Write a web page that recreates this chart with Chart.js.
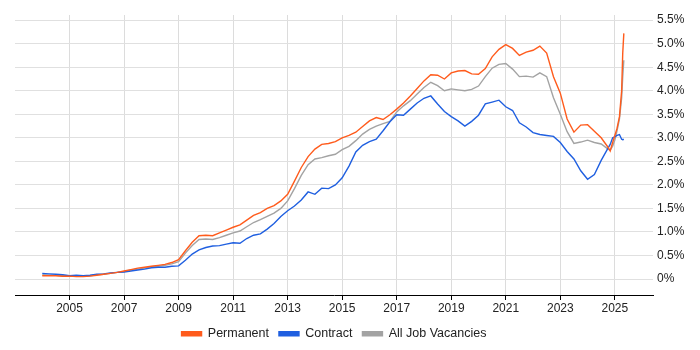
<!DOCTYPE html>
<html>
<head>
<meta charset="utf-8">
<script src="https://cdn.jsdelivr.net/npm/chart.js@4.4.1/dist/chart.umd.min.js"></script>
<style>
  html, body { margin: 0; padding: 0; background: #fff; }
  #wrap { width: 700px; height: 350px; }
</style>
</head>
<body>
<div id="wrap"><canvas id="chartTrend"></canvas></div>
<script>
// dates as decimal years
const dates = [
  2004.0, 2004.25, 2004.5, 2004.75, 2005.0, 2005.25, 2005.5, 2005.75,
  2006.0, 2006.25, 2006.5, 2006.75, 2007.0, 2007.25, 2007.5, 2007.75,
  2008.0, 2008.25, 2008.5, 2008.75, 2009.0, 2009.25, 2009.5, 2009.75,
  2010.0, 2010.25, 2010.5, 2010.75, 2011.0, 2011.25, 2011.5, 2011.75,
  2012.0, 2012.25, 2012.5, 2012.75, 2013.0, 2013.25, 2013.5, 2013.75,
  2014.0, 2014.25, 2014.5, 2014.75, 2015.0, 2015.25, 2015.5, 2015.75,
  2016.0, 2016.25, 2016.5, 2016.75, 2017.0, 2017.25, 2017.5, 2017.75,
  2018.0, 2018.25, 2018.5, 2018.75, 2019.0, 2019.25, 2019.5, 2019.75,
  2020.0, 2020.25, 2020.5, 2020.75, 2021.0, 2021.25, 2021.5, 2021.75,
  2022.0, 2022.25, 2022.5, 2022.75, 2023.0, 2023.25, 2023.5, 2023.75,
  2024.0, 2024.25, 2024.5, 2024.75, 2024.83, 2024.92, 2025.0, 2025.08,
  2025.17, 2025.25, 2025.29, 2025.33
];

const permanent = [
  0.07, 0.07, 0.07, 0.06, 0.06, 0.05, 0.05, 0.06,
  0.08, 0.10, 0.12, 0.14, 0.17, 0.20, 0.23, 0.25,
  0.27, 0.29, 0.31, 0.35, 0.41, 0.60, 0.78, 0.92,
  0.93, 0.92, 0.98, 1.04, 1.10, 1.15, 1.25, 1.35,
  1.41, 1.50, 1.56, 1.66, 1.80, 2.08, 2.37, 2.60,
  2.76, 2.86, 2.88, 2.92, 3.00, 3.05, 3.12, 3.24,
  3.36, 3.43, 3.39, 3.49, 3.61, 3.74, 3.89, 4.05,
  4.21, 4.34, 4.33, 4.25, 4.38, 4.42, 4.43, 4.36,
  4.35, 4.47, 4.72, 4.88, 4.98, 4.90, 4.75, 4.82,
  4.86, 4.95, 4.80, 4.30, 3.95, 3.40, 3.12, 3.27,
  3.28, 3.14, 3.00, 2.80, 2.72, 2.90, 3.05, 3.20,
  3.45, 4.00, 4.80, 5.22
];

const contract = [
  0.12, 0.11, 0.10, 0.09, 0.07, 0.08, 0.07, 0.08,
  0.10, 0.11, 0.13, 0.14, 0.15, 0.17, 0.19, 0.21,
  0.24, 0.25, 0.25, 0.27, 0.28, 0.40, 0.53, 0.62,
  0.67, 0.70, 0.71, 0.74, 0.77, 0.76, 0.86, 0.93,
  0.96, 1.06, 1.18, 1.33, 1.45, 1.55, 1.68, 1.85,
  1.80, 1.93, 1.92, 2.00, 2.15, 2.40, 2.70, 2.84,
  2.92, 2.97, 3.15, 3.34, 3.49, 3.48, 3.61, 3.74,
  3.84, 3.89, 3.72, 3.56, 3.45, 3.36, 3.25, 3.35,
  3.48, 3.72, 3.76, 3.80, 3.66, 3.58, 3.32, 3.23,
  3.11, 3.07, 3.05, 3.03, 2.90, 2.71, 2.55, 2.30,
  2.12, 2.22, 2.52, 2.78, 2.86, 3.00, 3.02, 3.05,
  3.07, 2.97, 2.96, 2.97
];

const allJobs = [
  0.09, 0.08, 0.08, 0.07, 0.06, 0.06, 0.06, 0.07,
  0.09, 0.10, 0.12, 0.14, 0.16, 0.19, 0.21, 0.23,
  0.26, 0.27, 0.29, 0.32, 0.37, 0.55, 0.71, 0.84,
  0.85, 0.84, 0.88, 0.93, 0.98, 1.02, 1.11, 1.20,
  1.26, 1.33, 1.40, 1.50, 1.66, 1.92, 2.20, 2.43,
  2.55, 2.58, 2.62, 2.65, 2.75, 2.82, 2.94, 3.08,
  3.18, 3.25, 3.30, 3.35, 3.55, 3.68, 3.79, 3.93,
  4.07, 4.18, 4.11, 4.00, 4.04, 4.02, 4.00, 4.03,
  4.10, 4.30, 4.48, 4.56, 4.58, 4.46, 4.30, 4.31,
  4.29, 4.38, 4.30, 3.85, 3.50, 3.13, 2.88, 2.91,
  2.95, 2.90, 2.87, 2.76, 2.74, 2.82, 2.95, 3.15,
  3.40, 3.85, 4.30, 4.65
];

const xTicks = [2005, 2007, 2009, 2011, 2013, 2015, 2017, 2019, 2021, 2023, 2025];
const yTicks = [0, 0.5, 1, 1.5, 2, 2.5, 3, 3.5, 4, 4.5, 5, 5.5];

const toPoints = vals => vals.map((v, i) => ({ x: dates[i], y: v }));
const font = { family: 'Liberation Sans, Arial, sans-serif', size: 12 };

// legend sits centred under the plot area, not the whole canvas
const legendShift = {
  id: 'legendShift',
  afterLayout(chart) {
    const lg = chart.legend;
    const area = chart.chartArea;
    const d = (area.left + area.right) / 2 - (lg.left + lg.right) / 2;
    lg.left += d;
    lg.right += d;
  }
};

const ctx = document.getElementById('chartTrend').getContext('2d');

new Chart(ctx, {
  type: 'line',
  data: {
    datasets: [
      { label: 'Permanent', data: toPoints(permanent), borderColor: '#ff5b1c', backgroundColor: '#ff5b1c' },
      { label: 'Contract', data: toPoints(contract), borderColor: '#1f5fe0', backgroundColor: '#1f5fe0' },
      { label: 'All Job Vacancies', data: toPoints(allJobs), borderColor: '#a3a3a3', backgroundColor: '#a3a3a3' }
    ]
  },
  options: {
    responsive: true,
    maintainAspectRatio: false,
    animation: false,
    layout: { padding: { left: 15, right: 0, top: 15, bottom: 0 } },
    elements: {
      line: { borderWidth: 1.4, tension: 0 },
      point: { radius: 0 }
    },
    plugins: {
      legend: {
        position: 'bottom',
        labels: {
          boxWidth: 20,
          boxHeight: 4,
          padding: 10,
          color: '#222',
          font: { family: 'Liberation Sans, Arial, sans-serif', size: 12.5 }
        }
      },
      tooltip: { enabled: false }
    },
    scales: {
      x: {
        type: 'linear',
        min: 2003.0,
        max: 2026.4,
        afterBuildTicks: s => { s.ticks = xTicks.map(v => ({ value: v })); },
        afterFit: s => { s.height = 22.5; },
        grid: { color: '#dcdcdc', tickColor: '#000', tickLength: 5 },
        border: { color: '#000', width: 1 },
        ticks: {
          padding: 1,
          color: '#222',
          maxRotation: 0,
          font: font,
          callback: v => String(v)
        }
      },
      y: {
        position: 'right',
        min: -0.34,
        max: 5.61,
        afterBuildTicks: s => { s.ticks = yTicks.map(v => ({ value: v })); },
        afterFit: s => { s.width = 47; },
        grid: { color: '#e0e0e0', drawTicks: false },
        border: { display: false },
        ticks: {
          padding: 4,
          color: '#222',
          font: font,
          callback: v => v === 0 ? '0%' : v.toFixed(1) + '%'
        }
      }
    }
  },
  plugins: [legendShift]
});
</script>
</body>
</html>
